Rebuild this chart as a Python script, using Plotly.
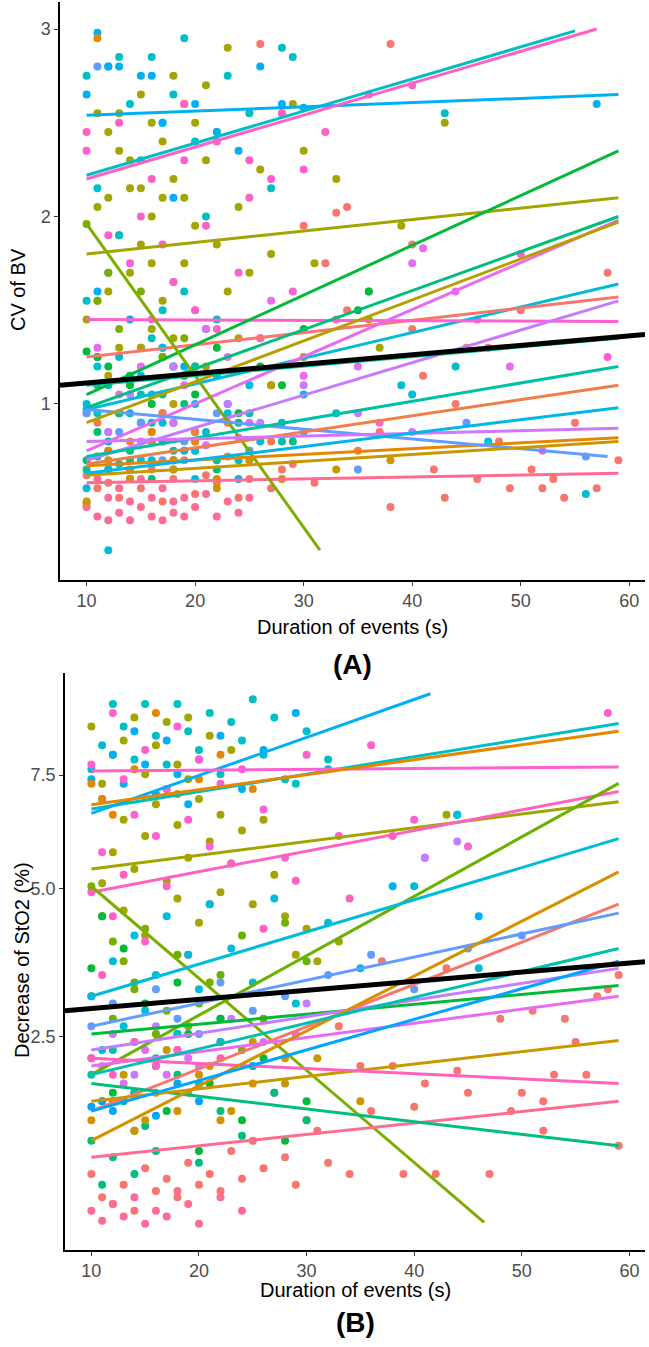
import numpy as np
import plotly.graph_objects as go

# ---------------- Panel A : CV of BV ----------------
A_colors = ["#A3A500", "#00BFC4", "#00B0F6", "#00BCD8", "#F8766D", "#FF6C91", "#FD61D1", "#FF61C3",
            "#E76BF3", "#C77CFF", "#00BA38", "#00BF7D", "#7CAE00", "#E58700", "#619CFF", "#C99800",
            "#B79F00", "#00C1A3", "#EF7F49", "#D575FE", "#00C097", "#00B6EB"]
A_x = [
    [10,10,11,11,11,12,12,12,13,13,13,13,14,14,14,15,15,15,16,16,16,16,17,17,17,18,18,18,18,19,19,19,20,20,20,21,21,22,22,23,23,24,25,26,27,28,29,30,31,33,36,37,39,43],
    [10,10,11,11,12,12,13,13,14,14,15,15,16,16,17,17,18,18,19,19,20,21,22,23,25,27,28,29,39,43,44],
    [10,10,11,11,12,13,14,15,15,16,17,17,18,19,20,21,22,23,24,26,28,30,57],
    [10,10,11,11,12,12,12,13,13,14,14,15,15,16,16,17,17,18,18,19,20,20,21,22,23,24,25,26,28,30,33,40,47,56],
    [10,11,12,13,14,15,16,17,18,19,20,21,22,23,24,25,26,27,28,29,30,31,32,33,34,35,36,37,38,40,41,42,43,44,45,46,47,48,49,50,51,52,53,54,55,57,58,59,26,38,34,40],
    [10,11,11,12,12,13,13,14,14,15,15,16,16,17,17,18,18,19,19,20,21,22,23,24,25],
    [10,11,12,14,15,16,17,18,19,20,21,22,24,25,26,27,29,30,33,37,46,50,58],
    [10,13,16,19,22,25,28,32,36,40],
    [11,13,15,17,19,21,23,25,27,30,35,40,41,44,49,52],
    [10,12,14,16,18,20,23,26,30,35,40],
    [10,11,12,13,14,15,16,17,18,19,20,22,24,26,28,30,35,36],
    [10,11,12,13,14,15,16,17,18,19,20,22,24,27,29],
    [10,11,12,13,15,17,19,20],
    [11,12,14,16,18,20,22,25],
    [10,11,13,15,17,19,22,25,30,35,45,56],
    [10,12,14,16,18,20,22,25,28,33,38],
    [12,15,18,21,24,27,30],
    [10,12,14,16,18,20,22,25,28],
    [11,14,17,20,23,27],
    [12,15,18,21,24],
    [11,14,17,20],
    [12,16,20,24],
]
A_y = [
    [0.47,1.45,2.55,2.05,1.25,2.1,1.6,2.45,2.55,1.9,2.35,1.3,2.3,1.7,2.15,2.15,1.85,2.65,2.5,2.0,1.75,1.4,2.4,1.55,2.1,2.75,2.2,1.65,1.35,2.6,2.1,1.75,1.95,1.5,2.5,2.7,2.3,1.85,2.45,2.9,1.6,2.05,1.7,2.25,1.8,2.55,2.6,2.35,1.75,2.2,1.45,1.3,1.95,2.5],
    [2.75,1.55,2.15,0.95,2.8,1.7,2.85,1.9,2.6,1.15,2.3,1.05,2.85,1.35,2.5,1.5,2.65,1.2,2.95,1.6,2.4,2.0,1.45,2.75,2.55,2.15,2.9,2.85,1.1,2.55,1.2],
    [2.65,0.97,2.98,1.6,2.8,2.8,1.45,2.75,0.9,2.75,1.3,2.5,2.1,1.2,2.6,1.4,2.45,1.0,2.35,2.8,2.6,2.58,2.6],
    [0.55,1.0,0.72,1.2,0.22,0.85,1.1,0.68,1.25,0.95,0.6,1.15,0.7,1.05,0.8,0.9,1.3,0.65,1.2,0.75,1.0,0.6,0.85,1.15,0.95,0.7,1.1,0.8,0.9,1.05,0.95,1.05,0.8,0.52],
    [0.62,0.55,0.58,0.5,0.6,0.55,0.65,0.48,0.6,0.7,0.52,0.62,0.58,0.72,0.5,0.6,2.92,0.55,0.65,0.68,1.95,0.58,1.75,2.02,1.5,0.75,1.6,0.85,2.92,1.4,1.15,0.65,0.5,1.0,1.3,0.6,1.3,0.8,0.55,1.5,0.65,0.55,0.6,0.5,0.9,0.55,1.7,0.7,1.35,0.45,2.05,1.85],
    [0.45,0.4,0.6,0.5,0.38,0.42,0.55,0.48,0.38,0.45,0.6,0.4,0.5,0.55,0.38,0.48,0.42,0.5,0.4,0.45,0.52,0.4,0.48,0.42,0.5],
    [2.35,1.55,1.9,1.75,2.0,1.45,1.85,1.65,2.3,1.5,1.95,1.4,1.7,2.1,1.35,2.2,1.6,2.25,1.45,0.9,1.45,1.8,1.25],
    [2.45,2.5,2.2,2.6,2.4,2.3,2.55,2.45,2.65,2.7],
    [1.3,1.05,1.2,0.95,1.1,1.4,1.25,0.9,1.55,1.15,1.2,1.75,1.83,1.6,1.2,0.75],
    [0.95,0.75,1.05,0.85,1.2,0.8,1.0,0.9,1.1,0.95,0.85],
    [1.28,1.25,1.2,0.95,1.1,1.3,1.0,1.25,0.9,1.15,1.05,1.3,0.95,1.2,1.1,1.4,1.5,1.6],
    [0.7,0.85,0.65,0.95,0.75,0.9,0.6,0.8,0.7,1.0,0.85,0.65,0.9,1.1,0.8],
    [1.96,1.55,1.7,1.4,1.6,1.25,1.35,1.2],
    [2.95,0.75,0.65,0.85,0.7,0.8,0.6,0.75],
    [0.95,2.8,0.85,0.9,0.7,0.8,0.95,0.75,0.85,0.65,0.9,0.72],
    [0.48,0.7,0.6,0.8,0.65,0.75,0.55,0.7,0.6,0.65,0.7],
    [1.15,1.3,1.0,1.2,1.35,1.1,1.25],
    [0.65,0.8,0.7,0.9,0.75,0.85,0.7,0.95,0.8],
    [0.9,0.8,0.95,0.85,0.9,0.8],
    [0.85,0.8,0.9,0.78,0.82],
    [1.1,1.15,1.05,1.2],
    [0.65,0.7,0.75,0.6],
]
# regression line ends per subject (start duration, end duration, start value, end value)
A_lx0 = [10,10,10,10,10,10,10,10,10,10,10,10,10,10,10,10,10,10,10,10,10,10]
A_lx1 = [59,55,59,59,59,59,59,57,59,59,59,59,31.5,59,58,59,59,59,59,59,59,59]
A_ly0 = [1.8,2.22,2.54,0.97,1.25,0.58,1.45,2.2,0.75,0.7,1.05,0.98,1.96,0.67,0.97,0.62,0.9,0.72,0.68,0.8,1.1,0.63]
A_ly1 = [2.1,2.99,2.65,1.64,1.57,0.63,1.44,3.0,1.98,1.55,2.35,2.0,0.22,0.82,0.72,0.8,1.97,1.2,1.1,0.87,1.35,0.98]
A_overall = [1.1, 1.37]

# ---------------- Panel B : Decrease of StO2 ----------------
B_colors = ["#A3A500", "#00BFC4", "#00B0F6", "#FD61D1", "#E58700", "#FF61C3", "#7CAE00", "#6BB100",
            "#00BCD8", "#F8766D", "#FF6C91", "#00BA38", "#00BF7D", "#C99800", "#619CFF", "#C77CFF",
            "#E76BF3", "#FF62BC", "#D89000", "#00A5FF", "#00C1AF"]
B_x = [
    [10,11,11,12,12,13,13,13,14,14,15,15,15,16,16,17,17,17,18,18,18,19,19,19,20,20,21,21,22,22,23,23,24,25,26,27,28,29,30,31,33,43],
    [10,11,12,13,14,15,16,17,18,19,20,21,22,23,24,25,26,27,28,29,30,32,44],
    [10,11,12,13,14,15,16,17,18,19,20,22,24,26,29,32,38,46],
    [10,11,12,13,14,15,16,17,18,19,20,21,22,24,26,28,30,33,36,40,45,58],
    [10,11,12,14,16,18,20,22,25],
    [10,11,12,13,15,17,19,21,23,26,29,34,38,41],
    [10,11,12,13,14,15,17,19,21,24],
    [10,12,14,16,18,20,22,24,26,28,30],
    [10,11,12,13,14,15,16,17,18,19,20,21,22,23,25,27,29,32,35,40,44,46],
    [10,11,12,13,14,15,16,17,18,19,20,21,22,23,24,25,26,27,28,29,30,31,32,33,34,35,36,37,38,39,40,41,42,43,44,45,47,48,49,50,51,52,52,53,54,55,56,57,58,59,59],
    [10,11,12,13,14,15,16,17,18,19,20,22,24],
    [10,11,12,13,14,15,16,17,18,19,20,21,22,24,26,28,30],
    [10,11,12,13,14,15,16,18,20,22,24,27,30],
    [11,13,15,17,19,21,23,25,28,31,35],
    [10,12,14,16,18,20,22,25,28,32,36,40,45,50],
    [10,12,14,16,18,20,23,26,30,41,44],
    [11,13,15,17,19,22,25,29],
    [10,12,14,16,18,20,22],
    [10,12,14,16,18,20,22,25,28],
    [10,11,12,14,16,18,20],
    [10,12,14,16,18,20,22,25],
]
B_y = [
    [8.72,5.11,7.29,8.0,5.75,8.36,6.46,4.58,8.96,5.4,7.52,6.1,4.12,8.24,6.81,8.84,5.16,7.17,7.76,4.81,6.34,8.96,5.63,7.4,6.93,4.35,8.48,5.98,6.57,4.93,8.12,5.51,6.22,4.7,6.46,5.28,4.47,3.78,4.24,3.67,4.01,6.57],
    [7.64,8.24,9.32,8.72,7.88,9.32,8.48,7.76,9.32,8.6,8.12,9.08,7.52,8.84,8.36,9.45,8.0,8.96,7.4,7.29,8.6,7.88,6.57],
    [7.4,6.93,8.0,7.29,8.6,7.76,7.05,8.36,7.52,6.81,7.88,8.48,7.17,8.12,9.08,7.64,5.05,4.47],
    [7.76,5.75,9.08,7.4,6.57,8.12,6.1,7.17,8.72,6.46,7.88,5.87,7.29,7.64,6.69,5.63,8.0,6.1,8.24,6.46,5.87,9.08],
    [7.29,6.93,6.57,7.64,9.08,7.05,7.4,8.0,7.17],
    [4.93,3.44,4.47,5.28,4.01,5.05,3.78,4.7,5.51,4.24,5.16,4.81,6.1,5.63],
    [5.05,4.47,4.01,3.67,3.21,4.24,2.88,2.65,3.32,2.32],
    [3.1,2.76,3.32,2.54,3.78,2.99,3.44,4.12,2.76,4.35,3.67],
    [3.1,2.32,3.67,2.65,4.12,2.88,3.44,4.47,2.54,3.78,3.21,4.7,2.76,3.89,3.32,4.81,2.99,4.35,3.55,5.05,6.57,3.55],
    [0.95,0.76,0.71,0.86,0.66,1.0,0.81,0.91,0.76,1.05,0.86,0.95,0.81,1.16,0.91,1.26,1.0,1.78,1.1,0.86,1.47,1.36,1.05,2.65,0.95,2.11,1.57,3.67,2.11,0.95,1.62,1.89,0.95,3.55,2.05,1.78,0.95,2.76,1.57,1.78,2.88,1.68,1.36,2.0,2.76,2.43,2.0,3.1,3.21,1.21,3.44],
    [0.66,0.59,0.71,0.62,0.76,0.57,0.66,0.62,0.81,0.71,0.57,0.76,0.66],
    [3.55,4.47,1.78,3.89,1.36,2.99,2.11,1.57,3.32,2.54,1.16,1.89,2.76,1.47,2.21,1.26,1.68],
    [1.26,0.86,1.1,1.68,0.95,1.41,1.16,2.0,1.05,1.57,1.31,1.78,1.47],
    [1.68,2.0,1.47,2.32,1.78,2.11,1.57,2.43,1.89,2.21,1.68],
    [2.65,2.99,2.43,3.21,2.76,2.54,3.32,2.88,3.1,3.44,3.78,3.21,3.89,4.12],
    [2.21,2.54,2.0,2.65,2.32,2.11,2.76,2.43,2.99,5.63,5.98],
    [2.11,1.89,2.32,2.0,2.21,2.43,2.11,2.54],
    [2.21,2.0,2.43,2.11,2.32,1.89,2.21],
    [1.47,1.68,1.36,1.78,1.57,2.0,1.47,1.89,2.21],
    [1.62,1.68,1.57,1.78,1.52,1.89,1.68],
    [2.0,2.32,1.78,2.21,2.54,1.89,2.43,2.11],
]
B_lx0 = [10,10,10,10,10,10,10,10,10,10,10,10,10,10,10,10,10,10,10,10,10]
B_lx1 = [59,59,41.5,59,59,59,46.5,59,59,59,59,59,59,59,59,59,59,59,59,59,59]
B_ly0 = [5.4,6.7,6.6,7.6,6.8,4.93,5.05,2.0,3.1,1.57,1.1,2.54,1.89,1.68,2.65,2.32,2.11,2.21,1.26,1.57,2.0]
B_ly1 = [6.87,8.8,9.6,7.7,8.6,7.11,0.58,7.3,6.04,4.7,1.68,3.27,1.21,2.45,4.53,3.55,3.1,1.89,5.34,3.67,3.89]
B_overall = [2.88, 3.66]

X_RANGE = [7.55, 61.45]

fig = go.Figure()

def add_panel(xs, ys, colors, lx0, lx1, ly0, ly1, overall, xa, ya, f):
    for i in range(len(xs)):
        fig.add_trace(go.Scatter(x=xs[i], y=f(ys[i]), mode="markers",
                                 marker=dict(color=colors[i], size=8, line=dict(width=0)),
                                 xaxis=xa, yaxis=ya, showlegend=False, hoverinfo="skip"))
    for i in range(len(lx0)):
        fig.add_trace(go.Scatter(x=[lx0[i], lx1[i]], y=f([ly0[i], ly1[i]]), mode="lines",
                                 line=dict(color=colors[i], width=3),
                                 xaxis=xa, yaxis=ya, showlegend=False, hoverinfo="skip"))
    fig.add_trace(go.Scatter(x=X_RANGE, y=f(overall), mode="lines",
                             line=dict(color="black", width=5),
                             xaxis=xa, yaxis=ya, showlegend=False, hoverinfo="skip"))

# panel A on a linear value axis, panel B on a square-root value axis
add_panel(A_x, A_y, A_colors, A_lx0, A_lx1, A_ly0, A_ly1, A_overall, "x", "y", lambda v: list(v))
add_panel(B_x, B_y, B_colors, B_lx0, B_lx1, B_ly0, B_ly1, B_overall, "x2", "y2", lambda v: np.sqrt(v))

W, H = 649, 1347
FONT = "Liberation Sans, Arial, sans-serif"
tickfont = dict(family=FONT, size=18, color="#4D4D4D")
common = dict(showline=True, linecolor="black", linewidth=1.5, ticks="outside", ticklen=4,
              tickcolor="#333333", tickwidth=1.2, showgrid=False, zeroline=False, tickfont=tickfont)

A_yticks = [1, 2, 3]
B_yticks = [2.5, 5.0, 7.5]
x_ticks = [10, 20, 30, 40, 50, 60]

fig.update_layout(
    width=W, height=H, margin=dict(l=0, r=0, t=0, b=0),
    paper_bgcolor="white", plot_bgcolor="white",
    xaxis=dict(domain=[60 / W, 645 / W], range=X_RANGE, tickvals=x_ticks, anchor="y", **common),
    yaxis=dict(domain=[1 - 580 / H, 1 - 2 / H], range=[0.061, 3.144],
               tickvals=A_yticks, ticktext=[str(t) for t in A_yticks], anchor="x", **common),
    xaxis2=dict(domain=[65 / W, 645 / W], range=X_RANGE, tickvals=x_ticks, anchor="y2", **common),
    yaxis2=dict(domain=[1 - 1250 / H, 1 - 673 / H], range=[0.639, 3.19],
                tickvals=list(np.sqrt(B_yticks)), ticktext=["%.1f" % t for t in B_yticks], anchor="x2", **common),
)

lab = dict(family=FONT, size=20, color="black")
big = dict(family=FONT, size=28, color="black")
ann = [
    dict(text="Duration of events (s)", x=352 / W, y=1 - 627 / H, font=lab),
    dict(text="<b>(A)</b>", x=352 / W, y=1 - 664 / H, font=big),
    dict(text="Duration of events (s)", x=355 / W, y=1 - 1290 / H, font=lab),
    dict(text="<b>(B)</b>", x=355 / W, y=1 - 1322 / H, font=big),
    dict(text="CV of BV", x=18 / W, y=1 - 290 / H, font=lab, textangle=-90),
    dict(text="Decrease of StO2 (%)", x=22 / W, y=1 - 960 / H, font=lab, textangle=-90),
]
for a in ann:
    fig.add_annotation(xref="paper", yref="paper", showarrow=False, xanchor="center", yanchor="middle", **a)

fig.write_html("out.html", config={"displayModeBar": False},
               post_script="document.body.style.margin='0';document.body.style.overflow='hidden';")
